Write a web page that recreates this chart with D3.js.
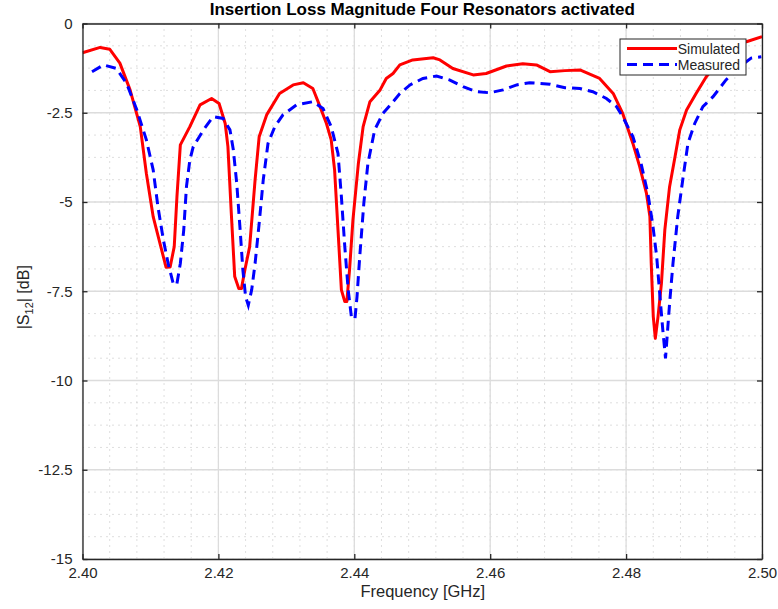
<!DOCTYPE html>
<html lang="en">
<head>
<meta charset="UTF-8">
<title>Insertion Loss Magnitude</title>
<script src="https://d3js.org/d3.v7.min.js"></script>
<style>
  body { margin: 0; background: #fff; }
  text { font-family: "Liberation Sans", Arial, Helvetica, sans-serif; fill: #262626; }
</style>
</head>
<body>
<div id="my_dataviz"></div>
<script>

// frequency (GHz) and |S12| (dB)
var simFreq = [2.4000, 2.4026, 2.4040, 2.4055, 2.4070, 2.4085, 2.4094, 2.4104, 2.4114, 2.4123,
  2.4129, 2.4135, 2.4139, 2.4144, 2.4158, 2.4173, 2.4190, 2.4201, 2.4210, 2.4214,
  2.4219, 2.4224, 2.4230, 2.4234, 2.4239, 2.4246, 2.4254, 2.4260, 2.4271, 2.4290,
  2.4310, 2.4325, 2.4339, 2.4349, 2.4359, 2.4366, 2.4371, 2.4376, 2.4381, 2.4386,
  2.4389, 2.4393, 2.4398, 2.4406, 2.4413, 2.4423, 2.4438, 2.4447, 2.4457, 2.4467,
  2.4486, 2.4516, 2.4526, 2.4545, 2.4575, 2.4594, 2.4624, 2.4648, 2.4668, 2.4688,
  2.4710, 2.4732, 2.4761, 2.4781, 2.4795, 2.4810, 2.4820, 2.4830, 2.4835, 2.4837,
  2.4840, 2.4843, 2.4847, 2.4852, 2.4857, 2.4864, 2.4872, 2.4879, 2.4889, 2.4903,
  2.4918, 2.4938, 2.4957, 2.4977, 2.5000];
var simDb = [-0.82, -0.67, -0.72, -1.11, -1.86, -2.89, -4.2, -5.41, -6.16, -6.83,
  -6.82, -6.25, -4.85, -3.4, -2.89, -2.28, -2.1, -2.24, -2.8, -3.45,
  -5.32, -7.09, -7.42, -7.42, -6.9, -6.25, -4.38, -3.17, -2.56, -1.96,
  -1.72, -1.66, -1.82, -2.3, -2.8, -3.26, -4.1, -5.78, -7.46, -7.79,
  -7.79, -6.9, -5.5, -3.92, -2.89, -2.19, -1.86, -1.54, -1.4, -1.16,
  -1.02, -0.96, -1.02, -1.26, -1.44, -1.4, -1.19, -1.13, -1.16, -1.35,
  -1.32, -1.3, -1.54, -1.96, -2.52, -3.36, -4.01, -4.76, -5.41, -6.72,
  -8.21, -8.82, -8.21, -7.28, -5.78, -4.57, -3.73, -2.98, -2.42, -1.96,
  -1.49, -1.02, -0.65, -0.51, -0.37];

var measFreq = [2.4014, 2.4031, 2.4050, 2.4065, 2.4080, 2.4094, 2.4104, 2.4111, 2.4119, 2.4126,
  2.4134, 2.4139, 2.4144, 2.4149, 2.4153, 2.4158, 2.4163, 2.4178, 2.4192, 2.4207,
  2.4217, 2.4222, 2.4227, 2.4232, 2.4236, 2.4240, 2.4244, 2.4249, 2.4254, 2.4260,
  2.4266, 2.4273, 2.4283, 2.4295, 2.4315, 2.4339, 2.4354, 2.4366, 2.4376, 2.4381,
  2.4386, 2.4391, 2.4396, 2.4401, 2.4404, 2.4408, 2.4414, 2.4420, 2.4430, 2.4442,
  2.4455, 2.4467, 2.4482, 2.4501, 2.4521, 2.4540, 2.4560, 2.4580, 2.4599, 2.4619,
  2.4639, 2.4658, 2.4688, 2.4710, 2.4732, 2.4751, 2.4771, 2.4786, 2.4795, 2.4810,
  2.4822, 2.4832, 2.4839, 2.4845, 2.4849, 2.4854, 2.4858, 2.4860, 2.4864, 2.4869,
  2.4876, 2.4884, 2.4891, 2.4901, 2.4913, 2.4928, 2.4947, 2.4967, 2.4984, 2.4999];
var measDb = [-1.35, -1.16, -1.26, -1.68, -2.42, -3.26, -4.1, -5.13, -6.06, -6.72,
  -7.32, -7.28, -6.72, -5.78, -4.57, -3.82, -3.45, -2.98, -2.61, -2.66,
  -2.98, -3.54, -4.48, -5.78, -6.9, -7.65, -7.89, -7.46, -6.72, -5.6,
  -4.38, -3.36, -2.89, -2.56, -2.28, -2.19, -2.38, -2.89, -3.64, -4.85,
  -6.25, -7.46, -8.26, -8.26, -7.65, -6.53, -5.04, -3.92, -2.98, -2.52,
  -2.24, -1.96, -1.72, -1.54, -1.47, -1.58, -1.77, -1.91, -1.94, -1.86,
  -1.72, -1.66, -1.7, -1.8, -1.82, -1.91, -2.1, -2.33, -2.61, -3.17,
  -3.92, -4.76, -5.6, -6.53, -7.46, -8.58, -9.38, -8.87, -7.84, -6.72,
  -5.41, -4.29, -3.36, -2.8, -2.33, -2.05, -1.58, -1.21, -0.97, -0.93];

var xTicks = [2.40, 2.42, 2.44, 2.46, 2.48, 2.50];
var yTicks = [0, -2.5, -5, -7.5, -10, -12.5, -15];
var seriesNames = ["Simulated", "Measured"];

// layout
var W = 778, H = 609;
var margin = {top: 23.5, right: 16, bottom: 50, left: 82.5},
  width = W - margin.left - margin.right,
  height = H - margin.top - margin.bottom;

var svg = d3.select("#my_dataviz")
  .append("svg")
    .attr("width", W)
    .attr("height", H)
  .append("g")
    .attr("transform", "translate(" + margin.left + "," + margin.top + ")");

var x = d3.scaleLinear().domain([2.40, 2.50]).range([0, width]);
var y = d3.scaleLinear().domain([-15, 0]).range([height, 0]);

// minor dotted grid
var xMinor = d3.range(0, 26).map(function(i) { return 2.40 + i * 0.004; });
var yMinor = d3.range(0, 25).map(function(i) { return -15 + i * 0.625; });

svg.append("g").selectAll("line")
  .data(xMinor)
  .enter().append("line")
    .attr("x1", function(d) { return x(d); })
    .attr("x2", function(d) { return x(d); })
    .attr("y1", 0).attr("y2", height)
    .style("stroke", "#bdbdbd")
    .style("stroke-width", 1)
    .style("stroke-dasharray", "1,5");

svg.append("g").selectAll("line")
  .data(yMinor)
  .enter().append("line")
    .attr("y1", function(d) { return y(d); })
    .attr("y2", function(d) { return y(d); })
    .attr("x1", 0).attr("x2", width)
    .style("stroke", "#bdbdbd")
    .style("stroke-width", 1)
    .style("stroke-dasharray", "1,5");

// major grid
svg.append("g").selectAll("line")
  .data(xTicks)
  .enter().append("line")
    .attr("x1", function(d) { return x(d); })
    .attr("x2", function(d) { return x(d); })
    .attr("y1", 0).attr("y2", height)
    .style("stroke", "#dcdcdc")
    .style("stroke-width", 1.3);

svg.append("g").selectAll("line")
  .data(yTicks)
  .enter().append("line")
    .attr("y1", function(d) { return y(d); })
    .attr("y2", function(d) { return y(d); })
    .attr("x1", 0).attr("x2", width)
    .style("stroke", "#dcdcdc")
    .style("stroke-width", 1.3);

// curves
svg.append("clipPath").attr("id", "clip")
  .append("rect").attr("width", width).attr("height", height);

var line = d3.line()
  .x(function(d) { return x(d[0]); })
  .y(function(d) { return y(d[1]); });

var simData = d3.zip(simFreq, simDb);
var measData = d3.zip(measFreq, measDb);

svg.append("path")
  .datum(simData)
  .attr("clip-path", "url(#clip)")
  .attr("d", line)
  .style("fill", "none")
  .style("stroke", "#ff0000")
  .style("stroke-width", 3)
  .style("stroke-linejoin", "round");

svg.append("path")
  .datum(measData)
  .attr("clip-path", "url(#clip)")
  .attr("d", line)
  .style("fill", "none")
  .style("stroke", "#0000ff")
  .style("stroke-width", 3)
  .style("stroke-dasharray", "10,6");

// axes (MATLAB style: ticks inward on all four sides)
var fmtX = d3.format(".2f");
var fmtY = function(d) { return String(d); };

var xAxis = svg.append("g")
  .attr("transform", "translate(0," + height + ")")
  .call(d3.axisBottom(x).tickValues(xTicks).tickFormat(fmtX).tickSizeInner(-5).tickSizeOuter(0).tickPadding(10));
var yAxis = svg.append("g")
  .call(d3.axisLeft(y).tickValues(yTicks).tickFormat(fmtY).tickSizeInner(-5).tickSizeOuter(0).tickPadding(10));
var xTop = svg.append("g")
  .call(d3.axisTop(x).tickValues(xTicks).tickFormat("").tickSizeInner(-5).tickSizeOuter(0));
var yRight = svg.append("g")
  .attr("transform", "translate(" + width + ",0)")
  .call(d3.axisRight(y).tickValues(yTicks).tickFormat("").tickSizeInner(-5).tickSizeOuter(0));

[xAxis, yAxis, xTop, yRight].forEach(function(a) {
  a.selectAll(".domain").style("stroke", "#262626").style("stroke-width", 1.3);
  a.selectAll(".tick line").style("stroke", "#262626").style("stroke-width", 1.3);
  a.selectAll(".tick text")
    .style("font-family", "'Liberation Sans', Arial, sans-serif")
    .style("font-size", "15px")
    .style("fill", "#262626");
});
xAxis.selectAll(".tick text").attr("dy", "0.6em");

// titles
svg.append("text")
  .attr("x", width / 2)
  .attr("y", -9)
  .attr("text-anchor", "middle")
  .style("font-size", "17px")
  .style("font-weight", "bold")
  .style("fill", "#000")
  .text("Insertion Loss Magnitude Four Resonators activated");

svg.append("text")
  .attr("x", width / 2 + 0.5)
  .attr("y", height + 38)
  .attr("text-anchor", "middle")
  .style("font-size", "16.5px")
  .text("Frequency [GHz]");

var yl = svg.append("text")
  .attr("transform", "translate(" + (-54) + "," + (height / 2 + 6) + ") rotate(-90)")
  .attr("text-anchor", "middle")
  .style("font-size", "16px");
yl.append("tspan").text("|S");
yl.append("tspan").attr("dy", 4).style("font-size", "11px").text("12");
yl.append("tspan").attr("dy", -4).text("| [dB]");

// legend
var legend = svg.append("g")
  .attr("transform", "translate(" + (620 - margin.left) + "," + (39 - margin.top) + ")");
legend.append("rect")
  .attr("width", 126).attr("height", 36)
  .style("fill", "#fff")
  .style("stroke", "#262626")
  .style("stroke-width", 1);

var legColors = ["#ff0000", "#0000ff"];
var legDash = ["none", "10,6"];
seriesNames.forEach(function(name, i) {
  var ly = 9.5 + i * 16;
  legend.append("line")
    .attr("x1", 7).attr("x2", 57)
    .attr("y1", ly).attr("y2", ly)
    .style("stroke", legColors[i])
    .style("stroke-width", 3)
    .style("stroke-dasharray", legDash[i]);
  legend.append("text")
    .attr("x", 120)
    .attr("y", ly + 5)
    .attr("text-anchor", "end")
    .style("font-size", "14px")
    .text(name);
});
</script>
</body>
</html>
